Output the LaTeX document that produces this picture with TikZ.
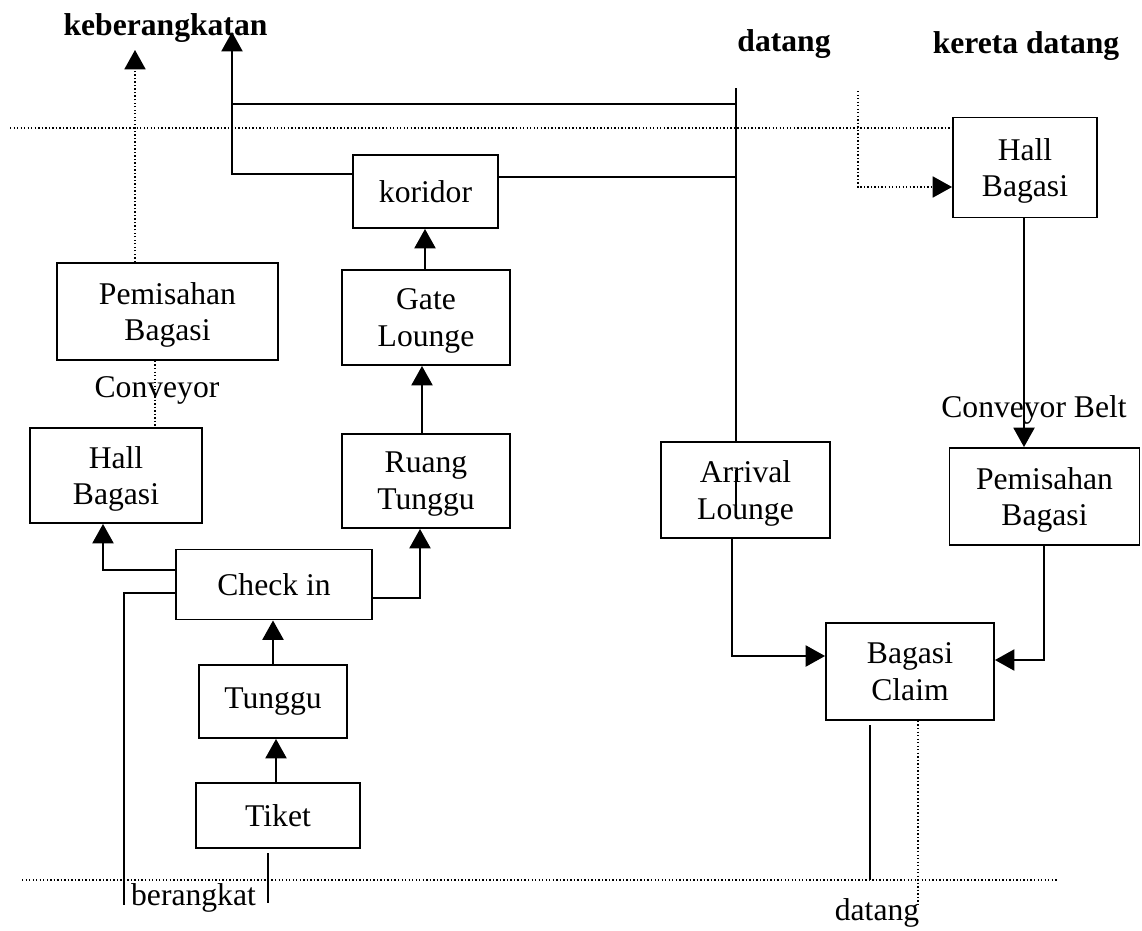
\documentclass[tikz,border=0pt]{standalone}
\usepackage{fontspec}
\setmainfont{Liberation Serif}
\usetikzlibrary{arrows.meta}
\tikzset{
  blok/.style 2 args={draw, line width=1.1pt, fill=white, minimum width=#1*0.02cm, minimum height=#2*0.02cm, inner sep=0pt, align=center, font=\fontsize{18}{21}\selectfont},
  dua/.style={text depth=0pt},
  lbl/.style={inner sep=0pt, font=\fontsize{18}{21}\selectfont},
  ttl/.style={inner sep=0pt, font=\fontsize{18}{21}\selectfont\bfseries},
  ln/.style={line width=1pt},
  dotln/.style={line width=0.8pt, dash pattern=on 0.8pt off 1.2pt},
  arr/.style={-{Triangle[length=11pt,width=12pt]}},
}
\begin{document}
\begin{tikzpicture}[x=0.02cm,y=-0.02cm]
\useasboundingbox (0,0) rectangle (1142,930);

% titles
\node[ttl,anchor=base] (tKeb) at (165.5,35) {keberangkatan};
\node[ttl,anchor=base] (tDat) at (784,51) {datang};
\node[ttl,anchor=base] (tKer) at (1026,53) {kereta datang};

% boxes
\node[blok={221}{97},dua] (pemL) at (167.5,311.5) {Pemisahan\\Bagasi};
\node[blok={172}{95},dua] (hallL) at (116,475.5) {Hall\\Bagasi};
\node[blok={145}{73}] (koridor) at (425.5,191.5) {koridor};
\node[blok={168}{95},dua] (gate) at (426,317.5) {Gate\\Lounge};
\node[blok={168}{94},dua] (ruang) at (426,481) {Ruang\\Tunggu};
\node[blok={196}{70}] (checkin) at (274,584.5) {Check in};
\node[blok={148}{73}] (tunggu) at (273,701.5) {Tunggu};
\node[blok={164}{65}] (tiket) at (278,815.5) {Tiket};
\node[blok={144}{100},dua] (hallR) at (1025,167.5) {Hall\\Bagasi};
\node[blok={169}{96},dua] (arrival) at (745.5,490) {Arrival\\Lounge};
\node[blok={190}{97},dua] (pemR) at (1044.5,496.5) {Pemisahan\\Bagasi};
\node[blok={168}{97},dua] (claim) at (910,671.5) {Bagasi\\Claim};

% free coordinates
\coordinate (kA) at (135,50);
\coordinate (kB) at (232,32);
\coordinate (dTop) at (736,88);
\coordinate (tdL) at (10,128);
\coordinate (kdTop) at (858,91);
\coordinate (bdL) at (22,880);
\coordinate (bdR) at (1057,880);
\coordinate (brgL) at (124,905);
\coordinate (brgR) at (268,903);
\coordinate (brgRt) at (268,853);

% top dotted line
\draw[dotln] (tdL) -- (tdL -| hallR.west);

% left dotted arrow to keberangkatan
\draw[dotln,arr] (pemL.north -| kA) -- (kA);

% conveyor
\draw[dotln] (pemL.south -| 155,0) -- (hallL.north -| 155,0);
\node[lbl,anchor=base] (conv) at (157,397) {Conveyor};

% koridor to keberangkatan
\draw[ln,arr] (koridor.west |- 0,174) -| (kB);
\draw[ln] (kB |- 0,104) -- (dTop |- 0,104);
\draw[ln] (koridor.east |- 0,177) -- (dTop |- 0,177);

% datang line
\draw[ln] (dTop) -- (arrival.north -| dTop);
\draw[ln] (dTop |- 0,470) -- (dTop |- 0,507);

% arrival -> claim, pemR -> claim
\draw[ln,arr] (arrival.south -| 732,0) |- (claim.west |- 0,656);
\draw[ln,arr] (pemR.south -| 1044,0) |- (claim.east |- 0,660);

% hallR -> pemR
\draw[ln,arr] (hallR.south -| 1024,0) -- (pemR.north -| 1024,0);
\node[lbl,anchor=base] (convB) at (1034,417) {Conveyor Belt};

% kereta datang dotted
\draw[dotln,arr] (kdTop) |- (hallR.west |- 0,187);

% check in connections
\draw[ln,arr] (checkin.west |- 0,570) -| (hallL.south -| 103,0);
\draw[ln,arr] (checkin.east |- 0,598) -| (ruang.south -| 420,0);
\draw[ln] (checkin.west |- 0,593) -| (brgL);
\draw[ln,arr] (tunggu.north -| 273,0) -- (checkin.south -| 273,0);
\draw[ln,arr] (tiket.north -| 276,0) -- (tunggu.south -| 276,0);
\draw[ln] (brgRt) -- (brgR);
\draw[ln,arr] (ruang.north -| 422,0) -- (gate.south -| 422,0);
\draw[ln,arr] (gate.north -| 425,0) -- (koridor.south -| 425,0);

% bottom
\draw[dotln] (bdL) -- (bdR);
\draw[ln] (870,725) -- (870,880);
\draw[dotln] (claim.south -| 918,0) -- (918,906);
\node[lbl,anchor=base] (berangkat) at (193.5,905) {berangkat};
\node[lbl,anchor=base] (datangB) at (877,920) {datang};
\end{tikzpicture}
\end{document}
